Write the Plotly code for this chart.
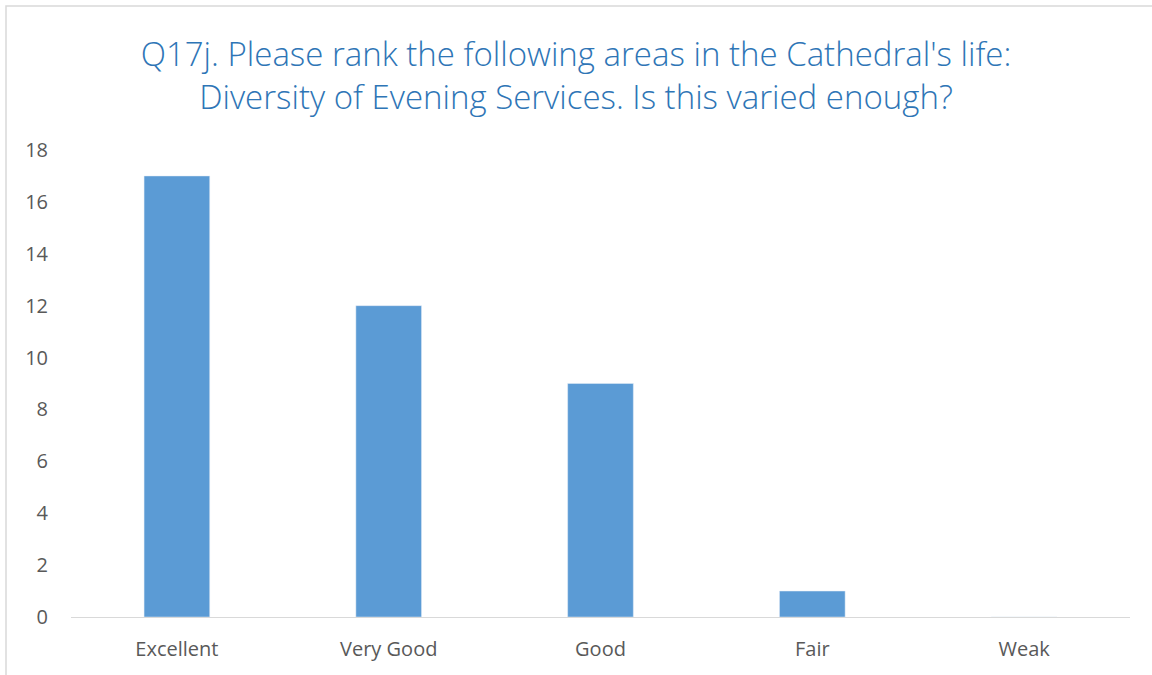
import plotly.graph_objects as go

categories = ['Excellent', 'Very Good', 'Good', 'Fair', 'Weak']
counts = [17, 12, 9, 1, 0]

title = "Q17j. Please rank the following areas in the Cathedral's life:<br>Diversity of Evening Services. Is this varied enough?"

W, H = 1152, 675
ml, mr, mt, mb = 71, 22, 150, 58
pw = W - ml - mr
ph = H - mt - mb

def px_x(p):
    return (p - ml) / pw

def px_y(p):
    return (H - mb - p) / ph

fig = go.Figure(go.Bar(
    x=categories,
    y=counts,
    marker_color='#5B9BD5',
    width=0.31,
))

fig.update_layout(
    width=W, height=H,
    margin=dict(l=ml, r=mr, t=mt, b=mb),
    paper_bgcolor='white',
    plot_bgcolor='white',
    font=dict(family='Open Sans', color='#595959', size=20),
    title=dict(text=title, x=0.5, xanchor='center',
               yref='container', y=1 - 66 / H, yanchor='middle',
               font=dict(size=33, color='#2E75B6', weight=300)),
    showlegend=False,
)
fig.update_xaxes(showline=True, linecolor='#D9D9D9', linewidth=1,
                 ticks='', showgrid=False, ticklabelstandoff=14,
                 tickfont=dict(size=20, color='#595959'))
fig.update_yaxes(range=[0, 18], dtick=2, showgrid=False, zeroline=False,
                 showline=False, ticks='', ticklabelstandoff=22,
                 tickfont=dict(size=20, color='#595959'))

# chart border (Excel chart area outline)
fig.add_shape(type='rect', xref='paper', yref='paper',
              x0=px_x(6), x1=px_x(1170), y0=px_y(690), y1=px_y(6),
              line=dict(color='#D9D9D9', width=1.5), layer='below')

fig.write_html("out.html", config={'displayModeBar': False},
               post_script="document.body.style.margin='0';")
